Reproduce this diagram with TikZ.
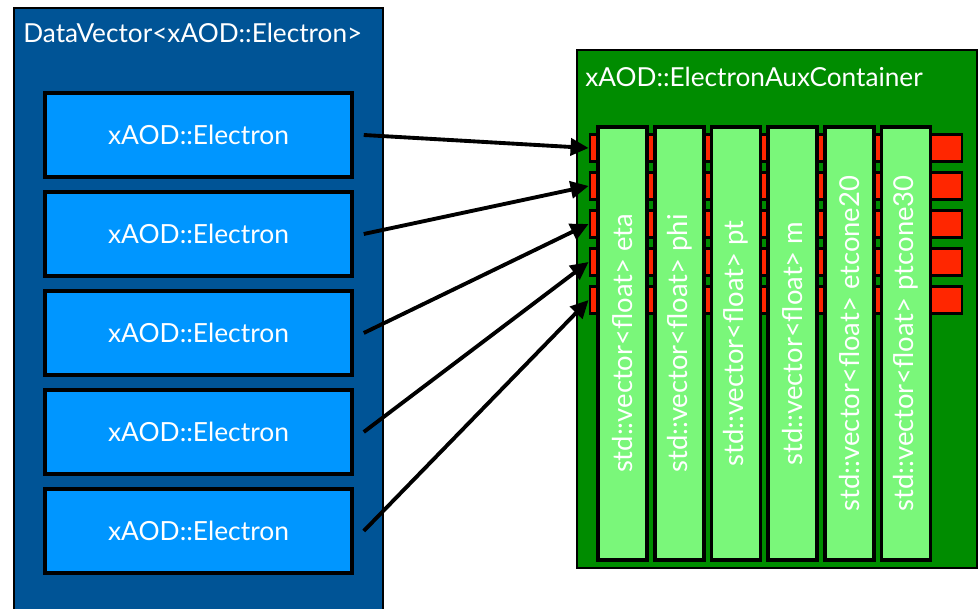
\documentclass[tikz,border=0pt]{standalone}
\usepackage{fontspec}
\setmainfont{Lato}
\usetikzlibrary{arrows.meta, positioning}

\definecolor{vecblue}{RGB}{0,84,150}
\definecolor{elblue}{RGB}{0,150,255}
\definecolor{auxgreen}{RGB}{0,140,0}
\definecolor{colgreen}{RGB}{122,247,122}
\definecolor{rowred}{RGB}{255,38,0}

\begin{document}
\begin{tikzpicture}[
    container/.style={draw=black, line width=1.6pt, inner sep=0pt},
    title/.style={text=white, inner sep=0pt, font=\fontsize{14.9}{17}\selectfont},
    elbox/.style={draw=black, line width=2pt, fill=elblue, text=white,
        minimum width=6.14cm, minimum height=1.68cm, font=\fontsize{15}{17}\selectfont},
    auxcol/.style={draw=black, line width=2pt, fill=colgreen, text=white, rotate=90,
        minimum width=8.66cm, minimum height=0.98cm, inner sep=0pt, font=\fontsize{15.6}{17}\selectfont},
    auxrow/.style={draw=black, line width=1.6pt, fill=rowred, inner sep=0pt,
        minimum width=7.44cm, minimum height=0.54cm},
    link/.style={line width=2.2pt, -{Triangle[length=0.36cm, width=0.34cm]}}
  ]
  \path[use as bounding box, clip] (0, 0) rectangle (19.56, 12.18);

  % Containers
  \node[container, fill=vecblue, minimum width=7.38cm, minimum height=12.4cm] (vec) at (3.97, 5.82) {};
  \node[title, anchor=base west] (vectitle) at (0.46, 11.32) {DataVector<xAOD::Electron>};
  \node[container, fill=auxgreen, minimum width=8.0cm, minimum height=10.36cm] (aux) at (15.54, 6.0) {};
  \node[title, anchor=base west] (auxtitle) at (11.70, 10.44) {xAOD::ElectronAuxContainer};

  % Electron objects
  \node[elbox] (e1) at (3.97, 9.48) {xAOD::Electron};
  \node[elbox] (e2) at (3.97, 7.50) {xAOD::Electron};
  \node[elbox] (e3) at (3.97, 5.52) {xAOD::Electron};
  \node[elbox] (e4) at (3.97, 3.54) {xAOD::Electron};
  \node[elbox] (e5) at (3.97, 1.56) {xAOD::Electron};

  % Aux store rows (behind the columns)
  \node[auxrow] (r1) at (15.52, 9.22) {};
  \node[auxrow] (r2) at (15.52, 8.46) {};
  \node[auxrow] (r3) at (15.52, 7.70) {};
  \node[auxrow] (r4) at (15.52, 6.94) {};
  \node[auxrow] (r5) at (15.52, 6.18) {};

  % Aux store columns
  \node[auxcol] (c1) at (12.45, 5.31) {std::vector<float> eta};
  \node[auxcol] (c2) at (13.59, 5.31) {std::vector<float> phi};
  \node[auxcol] (c3) at (14.72, 5.31) {std::vector<float> pt};
  \node[auxcol] (c4) at (15.85, 5.31) {std::vector<float> m};
  \node[auxcol] (c5) at (16.99, 5.31) {std::vector<float> etcone20};
  \node[auxcol] (c6) at (18.12, 5.31) {std::vector<float> ptcone30};

  % Links
  \draw[link] ([xshift=0.2cm]e1.east) -- (r1.west);
  \draw[link] ([xshift=0.2cm]e2.east) -- (r2.west);
  \draw[link] ([xshift=0.2cm]e3.east) -- (r3.west);
  \draw[link] ([xshift=0.2cm]e4.east) -- (r4.west);
  \draw[link] ([xshift=0.2cm]e5.east) -- (r5.west);
\end{tikzpicture}
\end{document}
